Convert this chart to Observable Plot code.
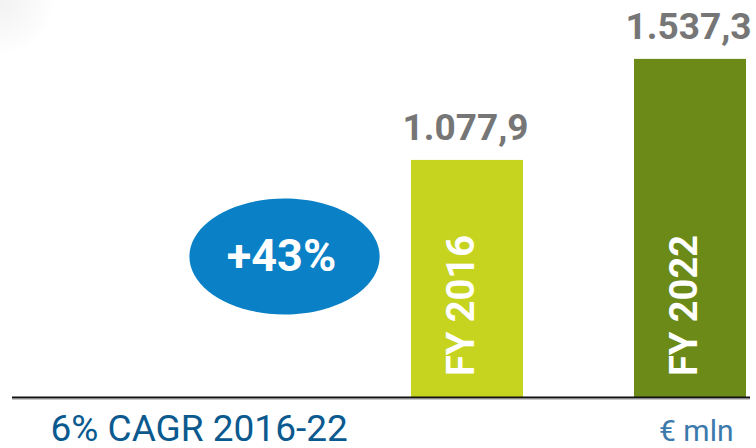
<!DOCTYPE html>
<html>
<head>
<meta charset="utf-8">
<script src="https://cdn.jsdelivr.net/npm/d3@7"></script>
<script src="https://cdn.jsdelivr.net/npm/@observablehq/plot@0.6"></script>
<style>
  html, body { margin: 0; padding: 0; overflow: hidden; }
  body {
    width: 756px; height: 448px;
    background: radial-gradient(circle at 0 0, #f2f2f2 0px, #f7f7f7 25px, #ffffff 55px);
  }
</style>
</head>
<body>
<div id="chart"></div>
<script>
const categories = ["FY 2016", "FY 2022"];
const values = [1077.9, 1537.3];
const barColors = ["#c6d41f", "#6b8a17"];
const cagrLabel = "6% CAGR 2016-22";
const unitLabel = "€ mln";

const data = categories.map((c, i) => ({cat: c, value: values[i]}));
const growth = values[1] / values[0] - 1;
const growthLabel = "+" + Math.round(growth * 100) + "%";

const euro = d3.formatLocale({decimal: ",", thousands: ".", grouping: [3], currency: ["€", ""]});
const fmt = euro.format(",.1f");

const ellipseSymbol = {
  draw(ctx, size) {
    const r = Math.sqrt(size / Math.PI);
    const ry = r, rx = r * 1.64;
    const k = 0.5523;
    ctx.moveTo(rx, 0);
    ctx.bezierCurveTo(rx, k * ry, k * rx, ry, 0, ry);
    ctx.bezierCurveTo(-k * rx, ry, -rx, k * ry, -rx, 0);
    ctx.bezierCurveTo(-rx, -k * ry, -k * rx, -ry, 0, -ry);
    ctx.bezierCurveTo(k * rx, -ry, rx, -k * ry, rx, 0);
    ctx.closePath();
  }
};

const chart = Plot.plot({
  width: 756,
  height: 448,
  marginTop: 0,
  marginBottom: 51,
  marginLeft: 0,
  marginRight: 0,
  style: {fontFamily: "Roboto", background: "transparent"},
  x: {domain: categories, range: [411, 745.5], paddingInner: 0.5, paddingOuter: 0, align: 0.5, axis: null},
  y: {domain: [0, 1805], axis: null},
  color: {domain: categories, range: barColors},
  marks: [
    Plot.barY(data, {x: "cat", y: "value", fill: "cat"}),
    Plot.ruleY([0], {stroke: "#c8c8c8", strokeWidth: 1, dy: 2, insetLeft: 12, insetRight: 6}),
    Plot.ruleY([0], {stroke: "#111", strokeWidth: 2, insetLeft: 12, insetRight: 6}),
    Plot.text(data, {x: "cat", y: "value", text: d => fmt(d.value), dy: -20, dx: -2, lineAnchor: "bottom",
      fontSize: 37, fontWeight: 700, fill: "#767676"}),
    Plot.text(data, {x: "cat", text: "cat", frameAnchor: "bottom", rotate: -90, dy: -92, dx: -6,
      lineAnchor: "middle", fill: "white", fontSize: 38, fontWeight: 700}),
    Plot.dot([growthLabel], {frameAnchor: "top-left", dx: 284, dy: 256, r: 58, symbol: ellipseSymbol,
      fill: "#0a80c6", stroke: null}),
    Plot.text([growthLabel], {frameAnchor: "top-left", dx: 281, dy: 256, text: d => d,
      fill: "white", fontSize: 45, fontWeight: 700, textAnchor: "middle", lineAnchor: "middle"}),
    Plot.text([cagrLabel], {frameAnchor: "bottom-left", dx: 50, dy: 43, text: d => d, textAnchor: "start",
      lineAnchor: "bottom", fontSize: 37, fill: "#0b5a8f"}),
    Plot.text([unitLabel], {frameAnchor: "bottom-right", dx: -23, dy: 43, text: d => d, textAnchor: "end",
      lineAnchor: "bottom", fontSize: 30, fill: "#3c7aab"})
  ]
});
document.getElementById("chart").appendChild(chart);
</script>
</body>
</html>
